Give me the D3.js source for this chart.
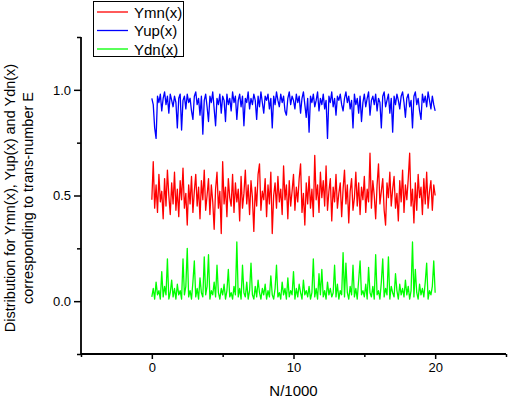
<!DOCTYPE html>
<html>
<head>
<meta charset="utf-8">
<script src="https://cdn.jsdelivr.net/npm/d3@7"></script>
<style>
body{margin:0;background:#fff;}
svg{display:block;font-family:Arial,"Liberation Sans",sans-serif;}
</style>
</head>
<body>
<svg id="chart" width="510" height="399"></svg>
<script>
const xStep = 0.1; // N/1000 step between samples
const seriesNames = ["Ymn(x)", "Yup(x)", "Ydn(x)"];
const xTicks = [0, 10, 20];
const yTicks = [0.0, 0.5, 1.0];

const ymn = [
0.48,0.66,0.44,0.55,0.42,0.60,0.47,0.52,0.39,0.58,
0.45,0.62,0.50,0.41,0.56,0.46,0.61,0.43,0.53,0.40,
0.57,0.48,0.63,0.44,0.51,0.36,0.55,0.46,0.59,0.42,
0.52,0.60,0.45,0.54,0.39,0.57,0.48,0.62,0.43,0.50,
0.58,0.41,0.55,0.47,0.34,0.53,0.61,0.44,0.52,0.32,
0.66,0.46,0.54,0.40,0.58,0.49,0.45,0.60,0.42,0.56,
0.47,0.53,0.38,0.59,0.44,0.51,0.62,0.46,0.55,0.41,
0.57,0.49,0.33,0.54,0.45,0.60,0.65,0.43,0.52,0.48,
0.58,0.40,0.55,0.46,0.61,0.32,0.50,0.56,0.44,0.59,
0.47,0.53,0.41,0.64,0.48,0.55,0.39,0.57,0.45,0.52,
0.60,0.43,0.54,0.47,0.58,0.65,0.42,0.51,0.36,0.56,
0.46,0.59,0.44,0.53,0.40,0.69,0.48,0.55,0.42,0.61,
0.49,0.57,0.45,0.64,0.43,0.52,0.58,0.38,0.54,0.47,
0.60,0.44,0.51,0.56,0.40,0.53,0.62,0.46,0.55,0.37,
0.52,0.58,0.43,0.49,0.61,0.45,0.56,0.41,0.54,0.48,
0.59,0.42,0.53,0.47,0.70,0.44,0.57,0.50,0.39,0.55,
0.65,0.46,0.52,0.58,0.43,0.36,0.56,0.49,0.61,0.45,
0.53,0.59,0.44,0.51,0.38,0.57,0.47,0.62,0.42,0.55,
0.48,0.58,0.70,0.45,0.53,0.37,0.56,0.43,0.60,0.49,
0.54,0.41,0.58,0.46,0.61,0.44,0.52,0.57,0.43,0.55,
0.50];

const yup = [
0.96,0.93,0.82,0.77,0.97,0.94,0.98,0.90,0.96,0.99,
0.93,0.97,0.89,0.98,0.95,0.92,0.97,0.94,0.82,0.96,
0.98,0.81,0.95,0.97,0.91,0.98,0.94,0.96,0.90,0.86,
0.97,0.99,0.93,0.96,0.88,0.97,0.79,0.95,0.98,0.92,
0.85,0.97,0.94,0.99,0.91,0.83,0.96,0.93,0.98,0.89,
0.97,0.95,0.85,0.98,0.93,0.96,0.90,0.99,0.94,0.97,
0.86,0.95,0.98,0.92,0.97,0.83,0.96,0.94,0.99,0.91,
0.96,0.93,0.98,0.95,0.86,0.97,0.92,0.99,0.94,0.89,
0.97,0.95,0.98,0.91,0.96,0.82,0.97,0.93,0.99,0.95,
0.92,0.98,0.94,0.97,0.90,0.88,0.96,0.99,0.93,0.97,
0.95,0.91,0.98,0.94,0.97,0.89,0.96,0.99,0.93,0.87,
0.96,0.80,0.97,0.94,0.98,0.92,0.95,0.99,0.90,0.96,
0.93,0.98,0.91,0.95,0.77,0.97,0.94,0.99,0.92,0.96,
0.88,0.97,0.95,0.98,0.93,0.90,0.96,0.99,0.94,0.97,
0.91,0.95,0.82,0.98,0.93,0.96,0.89,0.97,0.85,0.94,
0.98,0.92,0.96,0.99,0.88,0.95,0.97,0.93,0.98,0.90,
0.96,0.94,0.82,0.97,0.99,0.92,0.95,0.98,0.89,0.96,
0.80,0.97,0.93,0.98,0.95,0.91,0.97,0.99,0.94,0.87,
0.96,0.98,0.92,0.95,0.82,0.97,0.99,0.93,0.96,0.90,
0.86,0.98,0.94,0.97,0.92,0.99,0.95,0.91,0.97,0.93,
0.90];

const ydn = [
0.02,0.06,0.01,0.09,0.03,0.05,0.01,0.14,0.02,0.07,
0.03,0.20,0.01,0.04,0.10,0.02,0.06,0.01,0.08,0.03,
0.05,0.01,0.20,0.03,0.07,0.25,0.02,0.05,0.01,0.09,
0.19,0.02,0.06,0.01,0.11,0.04,0.02,0.21,0.03,0.07,
0.22,0.01,0.05,0.03,0.09,0.02,0.17,0.04,0.01,0.06,
0.03,0.08,0.01,0.05,0.15,0.02,0.04,0.01,0.07,0.03,
0.28,0.02,0.06,0.01,0.17,0.04,0.02,0.09,0.01,0.05,
0.18,0.03,0.01,0.07,0.02,0.10,0.04,0.01,0.06,0.03,
0.08,0.01,0.05,0.02,0.12,0.03,0.01,0.06,0.17,0.02,
0.04,0.01,0.09,0.03,0.06,0.01,0.11,0.02,0.05,0.03,
0.14,0.01,0.06,0.02,0.08,0.04,0.01,0.10,0.03,0.05,
0.02,0.07,0.01,0.04,0.20,0.02,0.06,0.01,0.13,0.03,
0.15,0.02,0.05,0.01,0.09,0.03,0.06,0.02,0.04,0.17,
0.02,0.08,0.01,0.05,0.03,0.23,0.02,0.18,0.04,0.01,
0.07,0.03,0.17,0.02,0.06,0.01,0.10,0.19,0.03,0.05,
0.02,0.08,0.01,0.16,0.04,0.02,0.07,0.01,0.22,0.03,
0.05,0.01,0.09,0.20,0.02,0.06,0.03,0.21,0.01,0.07,
0.04,0.02,0.13,0.05,0.01,0.08,0.03,0.06,0.02,0.10,
0.03,0.07,0.01,0.05,0.28,0.02,0.15,0.04,0.01,0.08,
0.03,0.06,0.02,0.09,0.18,0.01,0.05,0.03,0.07,0.19,
0.04];

const colors = ["#ff0000", "#0000ff", "#00ff00"];
const seriesValues = [ymn, yup, ydn];

const svg = d3.select("#chart");
const mLeft = 81, mRight = 506, mTop = 37, mBottom = 354;

const x = d3.scaleLinear().domain([-5, 25]).range([mLeft, mRight]);
const y = d3.scaleLinear().domain([-0.25, 1.25]).range([mBottom, mTop]);

// data lines
const line = d3.line().x((d, i) => x(i * xStep)).y(d => y(d));
seriesValues.forEach((vals, k) => {
  svg.append("path").datum(vals)
    .attr("fill", "none")
    .attr("stroke", colors[k])
    .attr("stroke-width", 1.3)
    .attr("stroke-linejoin", "round")
    .attr("d", line);
});

// x axis (major + minor)
const xAxisMajor = d3.axisBottom(x).tickValues(xTicks).tickSize(5).tickFormat(d3.format("d"));
const gx = svg.append("g").attr("transform", `translate(0,${mBottom})`).call(xAxisMajor);
const gxMinor = svg.append("g").attr("transform", `translate(0,${mBottom})`)
  .call(d3.axisBottom(x).tickValues([-5, 5, 15, 25]).tickSize(3).tickFormat(""));
gxMinor.select(".domain").remove();
gx.select(".domain").attr("stroke-width", 1.8).attr("d", `M${mLeft},0H${mRight}`);
gx.selectAll(".tick line").attr("stroke-width", 1.5);
gxMinor.selectAll(".tick line").attr("stroke-width", 1.5);
gx.selectAll(".tick text").attr("font-size", 13).attr("dy", "0.71em").attr("y", 9)
  .attr("font-family", "Arial, 'Liberation Sans', sans-serif").attr("fill", "#000");

// y axis
const yAxisMajor = d3.axisLeft(y).tickValues(yTicks).tickSize(7).tickFormat(d3.format(".1f"));
const gy = svg.append("g").attr("transform", `translate(${mLeft},0)`).call(yAxisMajor);
const gyMinor = svg.append("g").attr("transform", `translate(${mLeft},0)`)
  .call(d3.axisLeft(y).tickValues([-0.25, 0.25, 0.75, 1.25]).tickSize(4).tickFormat(""));
gyMinor.select(".domain").remove();
gy.select(".domain").attr("stroke-width", 1.8).attr("d", `M0,${mTop}V${mBottom}`);
gy.selectAll(".tick line").attr("stroke-width", 1.5);
gyMinor.selectAll(".tick line").attr("stroke-width", 1.5);
gy.selectAll(".tick text").attr("font-size", 13).attr("x", -10)
  .attr("font-family", "Arial, 'Liberation Sans', sans-serif").attr("fill", "#000");

// axis titles
svg.append("text").attr("x", (mLeft + mRight) / 2).attr("y", 396)
  .attr("text-anchor", "middle").attr("font-size", 15).text("N/1000");

const yTitle = svg.append("text").attr("text-anchor", "middle").attr("font-size", 14.5)
  .attr("transform", `translate(0,198) rotate(-90)`);
yTitle.append("tspan").attr("x", 0).attr("y", 15).text("Distribution for Ymn(x), Yup(x) and Ydn(x)");
yTitle.append("tspan").attr("x", 0).attr("y", 33).text("corresponding to trans-number E");

// legend
const lg = svg.append("g");
lg.append("rect").attr("x", 93.5).attr("y", 1.5).attr("width", 90).attr("height", 55)
  .attr("fill", "#fff").attr("stroke", "#000").attr("stroke-width", 1);
seriesNames.forEach((name, k) => {
  const yy = 12 + k * 18.5;
  lg.append("line").attr("x1", 97).attr("x2", 128).attr("y1", yy).attr("y2", yy)
    .attr("stroke", colors[k]).attr("stroke-width", 1.3);
  lg.append("text").attr("x", 134).attr("y", yy + 5.5).attr("font-size", 15).text(name);
});
</script>
</body>
</html>
